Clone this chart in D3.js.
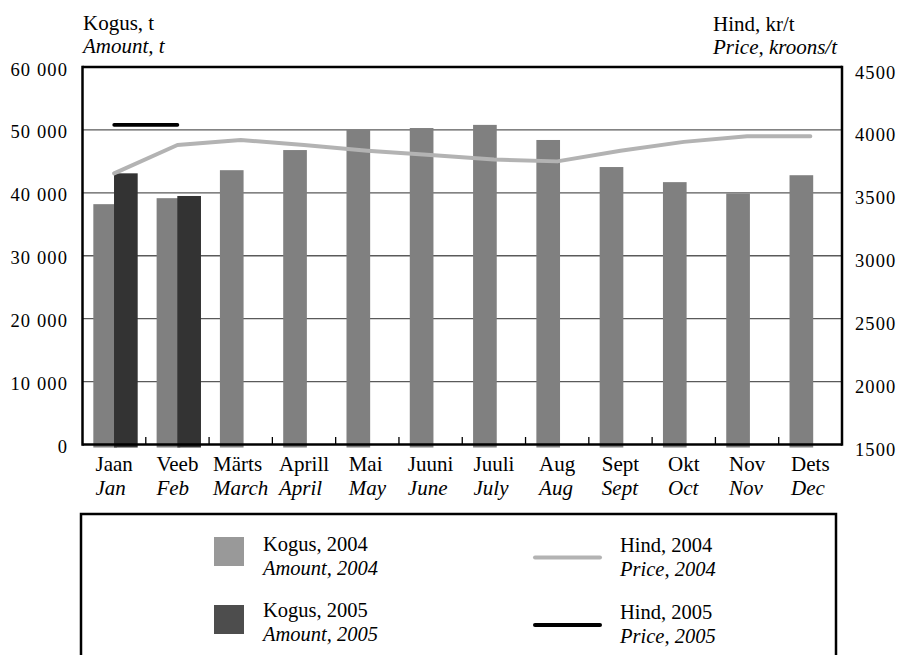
<!DOCTYPE html>
<html>
<head>
<meta charset="utf-8">
<script src="https://cdn.jsdelivr.net/npm/d3@7"></script>
<style>
  html, body { margin: 0; padding: 0; background: #fff; }
  svg { display: block; font-family: "Liberation Serif", "Times New Roman", serif; }
</style>
</head>
<body>
<svg id="chart" width="898" height="655"></svg>
<script>
// Monthly amounts (t) and prices (kroons/t)
const months   = ["Jaan", "Veeb", "Märts", "Aprill", "Mai", "Juuni", "Juuli", "Aug", "Sept", "Okt", "Nov", "Dets"];
const monthsEn = ["Jan", "Feb", "March", "April", "May", "June", "July", "Aug", "Sept", "Oct", "Nov", "Dec"];
const amount2004 = [38200, 39150, 43600, 46800, 50000, 50300, 50800, 48400, 44100, 41700, 39900, 42800];
const amount2005 = [43100, 39500];
const price2004  = [3655, 3880, 3920, 3880, 3835, 3800, 3765, 3750, 3835, 3905, 3950, 3950];
const price2005  = [4040, 4040];
const amountTicks = [0, 10000, 20000, 30000, 40000, 50000, 60000];
const priceTicks  = [1500, 2000, 2500, 3000, 3500, 4000, 4500];

const svg = d3.select("#chart");
const plot = { left: 82.5, right: 842, top: 67, bottom: 444.5 };

const x = d3.scaleBand().domain(months).range([plot.left, plot.right]).paddingInner(0).paddingOuter(0);
const yAmount = d3.scaleLinear().domain([0, 60000]).range([plot.bottom, plot.top]);
const yPrice  = d3.scaleLinear().domain([1500, 4500]).range([plot.bottom, plot.top]);

const fmt = d3.formatLocale({ decimal: ",", thousands: " ", grouping: [3], currency: ["", ""] }).format(",");

// gridlines
svg.append("g")
  .selectAll("line")
  .data(amountTicks.filter(t => t > 0 && t < 60000))
  .join("line")
  .attr("x1", plot.left).attr("x2", plot.right)
  .attr("y1", d => yAmount(d)).attr("y2", d => yAmount(d))
  .attr("stroke", "#5a5a5a").attr("stroke-width", 1.3);

// bars
const bw = x.bandwidth();
const barW = bw * 0.374;
const bars = svg.append("g");
bars.selectAll("rect.a2004")
  .data(amount2004)
  .join("rect")
  .attr("class", "a2004")
  .attr("x", (d, i) => x(months[i]) + bw * 0.171)
  .attr("y", d => yAmount(d))
  .attr("width", barW)
  .attr("height", d => yAmount(0) - yAmount(d) + 3)
  .attr("fill", "#808080");
bars.selectAll("rect.a2005")
  .data(amount2005)
  .join("rect")
  .attr("class", "a2005")
  .attr("x", (d, i) => x(months[i]) + bw * 0.498)
  .attr("y", d => yAmount(d))
  .attr("width", barW)
  .attr("height", d => yAmount(0) - yAmount(d) + 3)
  .attr("fill", "#333333");

// price lines
const line = d3.line()
  .x((d, i) => x(months[i]) + bw / 2)
  .y(d => yPrice(d));
svg.append("path")
  .datum(price2004)
  .attr("d", line)
  .attr("fill", "none")
  .attr("stroke", "#b3b3b3")
  .attr("stroke-width", 4)
  .attr("stroke-linejoin", "round")
  .attr("stroke-linecap", "round");
svg.append("path")
  .datum(price2005)
  .attr("d", line)
  .attr("fill", "none")
  .attr("stroke", "#000")
  .attr("stroke-width", 3.6)
  .attr("stroke-linecap", "round");

// frame: top border, left/right axes, bottom axis
const frame = svg.append("g").attr("stroke", "#000").attr("stroke-width", 2.5).attr("fill", "none");
frame.append("line").attr("x1", plot.left).attr("x2", plot.right).attr("y1", plot.top).attr("y2", plot.top);
frame.append("line").attr("x1", plot.left).attr("x2", plot.right).attr("y1", plot.bottom).attr("y2", plot.bottom);
frame.append("line").attr("x1", plot.left).attr("x2", plot.left).attr("y1", plot.top - 1.2).attr("y2", plot.bottom + 1.2);
frame.append("line").attr("x1", plot.right).attr("x2", plot.right).attr("y1", plot.top - 1.2).attr("y2", plot.bottom + 1.2);

// category separator ticks on the x axis
svg.append("g")
  .selectAll("line")
  .data(months.slice(1))
  .join("line")
  .attr("x1", d => x(d)).attr("x2", d => x(d))
  .attr("y1", plot.bottom).attr("y2", plot.bottom - 7.5)
  .attr("stroke", "#000").attr("stroke-width", 1.3);

// left axis labels
const leftAxis = svg.append("g")
  .attr("transform", `translate(${plot.left},0)`)
  .call(d3.axisLeft(yAmount).tickValues(amountTicks).tickFormat(fmt).tickSize(0).tickPadding(14.5));
leftAxis.select(".domain").remove();
leftAxis.selectAll("text")
  .attr("dy", null).attr("y", 8)
  .attr("font-family", "Liberation Serif").attr("font-size", 18.5)
  .attr("letter-spacing", 1.1).attr("fill", "#000");

// right axis labels
const rightAxis = svg.append("g")
  .attr("transform", `translate(${plot.right},0)`)
  .call(d3.axisRight(yPrice).tickValues(priceTicks).tickFormat(d3.format("d")).tickSize(0).tickPadding(13));
rightAxis.select(".domain").remove();
rightAxis.selectAll("text")
  .attr("dy", null).attr("y", 11)
  .attr("font-family", "Liberation Serif").attr("font-size", 18.5)
  .attr("letter-spacing", 1.1).attr("fill", "#000");

// month labels: Estonian above, English in italics, left-aligned block centred on the band
const labels = svg.append("g").attr("font-size", 21).attr("fill", "#000");
months.forEach((m, i) => {
  const g = labels.append("g");
  const t1 = g.append("text").attr("y", 470.5).text(m);
  const t2 = g.append("text").attr("y", 495).attr("font-style", "italic").text(monthsEn[i]);
  const w = Math.max(t1.node().getComputedTextLength(), t2.node().getComputedTextLength());
  g.attr("transform", `translate(${x(m) + bw / 2 - w / 2},0)`);
});

// axis titles
const titles = svg.append("g").attr("font-size", 21).attr("fill", "#000");
titles.append("text").attr("x", 83).attr("y", 30).text("Kogus, t");
titles.append("text").attr("x", 83).attr("y", 52.5).attr("font-style", "italic").text("Amount, t");
titles.append("text").attr("x", 713).attr("y", 31).text("Hind, kr/t");
titles.append("text").attr("x", 713).attr("y", 54).attr("font-style", "italic").text("Price, kroons/t");

// legend
const legend = svg.append("g").attr("font-size", 20.5).attr("fill", "#000");
legend.append("rect")
  .attr("x", 81).attr("y", 514).attr("width", 755).attr("height", 160)
  .attr("fill", "none").attr("stroke", "#000").attr("stroke-width", 2.5);

const lineGap = 24;
const legendBars = [
  { fill: "#999999", et: "Kogus, 2004", en: "Amount, 2004", top: 537, base: 551 },
  { fill: "#4d4d4d", et: "Kogus, 2005", en: "Amount, 2005", top: 605, base: 616.5 }
];
legendBars.forEach(d => {
  legend.append("rect").attr("x", 214).attr("y", d.top).attr("width", 30).attr("height", 29).attr("fill", d.fill);
  legend.append("text").attr("x", 263).attr("y", d.base).text(d.et);
  legend.append("text").attr("x", 263).attr("y", d.base + lineGap).attr("font-style", "italic").text(d.en);
});

const legendLines = [
  { stroke: "#b3b3b3", et: "Hind, 2004", en: "Price, 2004", ly: 557.5, base: 551.5 },
  { stroke: "#000000", et: "Hind, 2005", en: "Price, 2005", ly: 625, base: 618.5 }
];
legendLines.forEach(d => {
  legend.append("line").attr("x1", 535).attr("x2", 600).attr("y1", d.ly).attr("y2", d.ly)
    .attr("stroke", d.stroke).attr("stroke-width", 4).attr("stroke-linecap", "round");
  legend.append("text").attr("x", 620).attr("y", d.base).text(d.et);
  legend.append("text").attr("x", 620).attr("y", d.base + lineGap).attr("font-style", "italic").text(d.en);
});
</script>
</body>
</html>
